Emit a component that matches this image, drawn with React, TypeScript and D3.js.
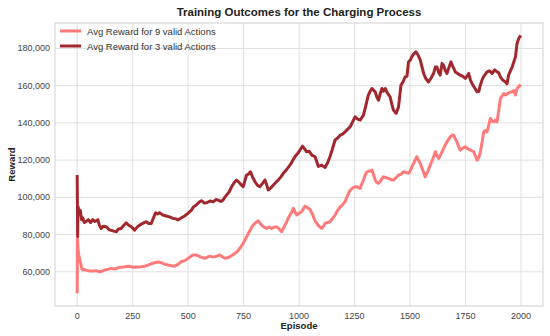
import * as d3 from "d3";

// episode -> avg reward (thousands)
const eps3 = [0, 2, 4, 8, 14, 20, 25, 32, 40, 50, 60, 70, 80, 93, 100, 108, 118, 131, 145, 161, 176, 186, 198, 210, 221, 232, 244, 259, 270, 281, 295, 311, 322, 334, 344, 353, 362, 371, 386, 401, 416, 431, 444, 454, 470, 484, 500, 514, 525, 538, 550, 560, 572, 583, 598, 613, 625, 635, 647, 657, 665, 673, 685, 696, 708, 718, 726, 733, 748, 756, 763, 772, 781, 790, 801, 812, 823, 835, 846, 853, 861, 872, 884, 895, 906, 918, 929, 944, 959, 970, 981, 993, 1004, 1015, 1025, 1034, 1045, 1057, 1072, 1080, 1087, 1102, 1117, 1128, 1139, 1150, 1162, 1175, 1185, 1196, 1207, 1218, 1230, 1241, 1252, 1264, 1275, 1290, 1300, 1312, 1320, 1328, 1336, 1343, 1350, 1358, 1365, 1373, 1380, 1388, 1398, 1410, 1418, 1425, 1437, 1448, 1454, 1459, 1468, 1478, 1486, 1493, 1501, 1510, 1516, 1526, 1536, 1546, 1554, 1561, 1570, 1583, 1594, 1606, 1614, 1621, 1629, 1636, 1644, 1651, 1659, 1666, 1676, 1684, 1694, 1704, 1715, 1726, 1738, 1749, 1756, 1764, 1772, 1779, 1790, 1802, 1810, 1816, 1824, 1832, 1847, 1858, 1870, 1881, 1892, 1899, 1907, 1918, 1930, 1937, 1944, 1952, 1960, 1968, 1975, 1982, 1990, 1999];
const reward3 = [112, 79, 95, 92, 93, 88, 89, 86.5, 87, 88, 86.5, 88, 87, 88, 85, 83.3, 84.5, 84.2, 82.5, 82, 81.5, 83, 83.3, 85, 86.3, 85, 84.2, 82.4, 84, 85.1, 86, 86.9, 86, 86, 89, 91.7, 91, 91.7, 90.5, 90, 89.5, 88.7, 88.5, 87.8, 89, 90, 91.5, 93, 95, 96, 97.5, 98.2, 97, 97.1, 98, 97.6, 98.8, 98.5, 97.8, 98.5, 100, 101.2, 103, 105.7, 108, 109.3, 108.5, 107.5, 105.7, 109, 112, 112.5, 113.7, 111, 108.4, 106.5, 105.7, 107.5, 109.3, 107, 103.9, 105, 106.6, 108, 109.3, 111, 112.9, 115, 117.3, 119.5, 121.8, 123.5, 125.4, 127.5, 126, 124.5, 124.8, 122.7, 121.8, 119, 116.6, 117.3, 116.1, 118.5, 121.8, 126, 130.8, 132, 133.4, 134, 135.2, 136.5, 137.9, 140.5, 143.3, 142, 141.5, 144.2, 149, 154.9, 157, 158.5, 157.5, 156.7, 154, 152.2, 155.5, 158.5, 157, 158.5, 156, 154, 150, 146.9, 145.1, 148.6, 155, 160.3, 162, 164.7, 165, 172.8, 173.7, 176, 177, 178.2, 176.5, 173.7, 170, 166.6, 164, 162, 164, 166.6, 170, 170.1, 167, 165.7, 172, 171, 168, 166.6, 170, 172.8, 170, 167.4, 166.5, 165.7, 165, 163.9, 165, 166.6, 163, 161.2, 159, 156.7, 157, 160, 163, 165, 167.4, 168, 166.6, 168.5, 167.4, 167, 164.7, 163, 162, 161, 165.7, 168, 170, 173, 175.5, 182.7, 185.5, 187];

const eps9 = [0, 1, 4, 6, 10, 16, 20, 25, 32, 40, 55, 70, 85, 100, 112, 123, 138, 153, 170, 190, 210, 228, 240, 251, 270, 289, 305, 319, 335, 349, 365, 379, 395, 409, 425, 439, 455, 469, 485, 499, 510, 521, 538, 556, 575, 598, 610, 620, 632, 643, 655, 665, 677, 688, 700, 711, 722, 733, 748, 760, 771, 782, 793, 805, 816, 824, 831, 842, 853, 865, 876, 888, 899, 910, 921, 932, 944, 952, 959, 966, 974, 982, 989, 1000, 1011, 1018, 1026, 1038, 1049, 1060, 1072, 1080, 1087, 1095, 1102, 1110, 1117, 1128, 1139, 1150, 1162, 1174, 1185, 1196, 1207, 1218, 1230, 1241, 1252, 1264, 1275, 1282, 1290, 1298, 1305, 1316, 1328, 1336, 1343, 1350, 1358, 1368, 1380, 1392, 1403, 1414, 1425, 1436, 1448, 1460, 1470, 1480, 1493, 1500, 1508, 1519, 1530, 1538, 1546, 1556, 1568, 1580, 1591, 1602, 1614, 1621, 1629, 1640, 1651, 1660, 1670, 1681, 1690, 1696, 1704, 1711, 1720, 1726, 1738, 1749, 1760, 1772, 1787, 1795, 1802, 1810, 1817, 1825, 1832, 1840, 1847, 1855, 1862, 1870, 1877, 1885, 1892, 1900, 1907, 1915, 1922, 1930, 1940, 1950, 1960, 1968, 1975, 1982, 1990, 1999];
const reward9 = [48.5, 78, 72, 70, 67, 64.5, 62, 60.9, 61.2, 60.9, 60.4, 60.4, 60.6, 60, 60.3, 60.9, 61.3, 61.8, 61.5, 62.4, 62.6, 63, 62.8, 62.4, 62.6, 62.7, 63, 63.6, 64.3, 64.9, 65.2, 64.9, 64, 63.6, 63.2, 63, 64, 65.4, 66, 67.2, 68.1, 69, 69, 68, 67.2, 68.4, 68, 68.1, 68.5, 69, 68, 67.2, 67.5, 68.1, 69, 69.9, 71, 72.6, 75.3, 78, 80.6, 83, 85.1, 86.5, 87.4, 86, 85.1, 84, 83.3, 84, 83.3, 84, 84.2, 83, 81.5, 84, 86.9, 89, 90.5, 92, 94.1, 92, 90.5, 91.5, 92.3, 93.5, 95.3, 94.5, 93.5, 91, 87.3, 86, 84.8, 84, 83.3, 84.5, 86, 86.5, 86.9, 88.5, 90.5, 93, 94.9, 96, 97.6, 101, 103.9, 105, 105.7, 105.5, 104.8, 107, 109.3, 112, 113.7, 114, 114.6, 112, 109.3, 108, 107.5, 109, 111.1, 110.5, 110.2, 109.5, 109.3, 110.5, 112, 112.5, 113.7, 113.5, 112.9, 114, 116.4, 119, 121.8, 120, 118.2, 115, 111, 114, 117.3, 120.5, 124.5, 122.5, 120.9, 123.5, 126.3, 128.5, 130.5, 132.5, 133.5, 133.4, 131.5, 129.8, 127, 125.4, 126.5, 127.2, 126, 125.4, 124.5, 122, 120, 121.5, 124.5, 130, 135.2, 136, 135.2, 139, 142.4, 141, 140.6, 141.5, 140.6, 147, 153.1, 154.5, 155.8, 155, 155.8, 156.5, 156.7, 157.5, 155, 158.5, 159.5, 160.6];

const xTicks = [0, 250, 500, 750, 1000, 1250, 1500, 1750, 2000];
const yTicks = [60000, 80000, 100000, 120000, 140000, 160000, 180000];

const series = [
  { label: "Avg Reward for 9 valid Actions", eps: eps9, vals: reward9, color: "#ff7b7b" },
  { label: "Avg Reward for 3 valid Actions", eps: eps3, vals: reward3, color: "#a1282f" },
];

const W = 550;
const H = 336;
const m = { left: 55, right: 7, top: 23, bottom: 30 };
const font = "'Liberation Sans', Arial, sans-serif";

export default function App() {
  const x = d3.scaleLinear().domain([-100, 2099]).range([m.left, W - m.right]);
  const y = d3.scaleLinear().domain([41600, 193700]).range([H - m.bottom, m.top]);
  const fmt = d3.format(",");

  const line = d3
    .line<[number, number]>()
    .x((d) => x(d[0]))
    .y((d) => y(d[1] * 1000));

  return (
    <svg width={W} height={H} style={{ position: "absolute", left: 0, top: 0, background: "#fff" }} fontFamily={font}>
      <rect x={m.left} y={m.top} width={W - m.left - m.right} height={H - m.top - m.bottom} fill="#fff" />
      {xTicks.map((t) => (
        <line key={"gx" + t} x1={x(t)} x2={x(t)} y1={m.top} y2={H - m.bottom} stroke="#dcdcdc" strokeWidth={0.9} />
      ))}
      {yTicks.map((t) => (
        <line key={"gy" + t} x1={m.left} x2={W - m.right} y1={y(t)} y2={y(t)} stroke="#dcdcdc" strokeWidth={0.9} />
      ))}
      <rect x={m.left} y={m.top} width={W - m.left - m.right} height={H - m.top - m.bottom} fill="none" stroke="#d0d0d0" strokeWidth={1} />

      {series.map((s) => (
        <path
          key={s.label}
          d={line(s.eps.map((e, i) => [e, s.vals[i]] as [number, number])) || ""}
          fill="none"
          stroke={s.color}
          strokeWidth={3}
          strokeLinejoin="round"
        />
      ))}

      {xTicks.map((t) => (
        <text key={"tx" + t} x={x(t)} y={H - m.bottom + 13} textAnchor="middle" fontSize={9} fill="#444">
          {t}
        </text>
      ))}
      {yTicks.map((t) => (
        <text key={"ty" + t} x={m.left - 5} y={y(t) + 3} textAnchor="end" fontSize={9} fill="#444">
          {fmt(t)}
        </text>
      ))}

      <text x={(m.left + W - m.right) / 2} y={16} textAnchor="middle" fontSize={11.5} fontWeight="bold" fill="#222">
        Training Outcomes for the Charging Process
      </text>
      <text x={(m.left + W - m.right) / 2} y={329} textAnchor="middle" fontSize={9.5} fontWeight="bold" fill="#222">
        Episode
      </text>
      <text transform={`translate(15,${(m.top + H - m.bottom) / 2}) rotate(-90)`} textAnchor="middle" fontSize={9.5} fontWeight="bold" fill="#222">
        Reward
      </text>

      {series.map((s, i) => (
        <g key={"lg" + i} transform={`translate(60,${31 + i * 15})`}>
          <line x1={0} x2={21} y1={0} y2={0} stroke={s.color} strokeWidth={3} />
          <text x={27} y={3.5} fontSize={9.5} fill="#333">
            {s.label}
          </text>
        </g>
      ))}
    </svg>
  );
}
